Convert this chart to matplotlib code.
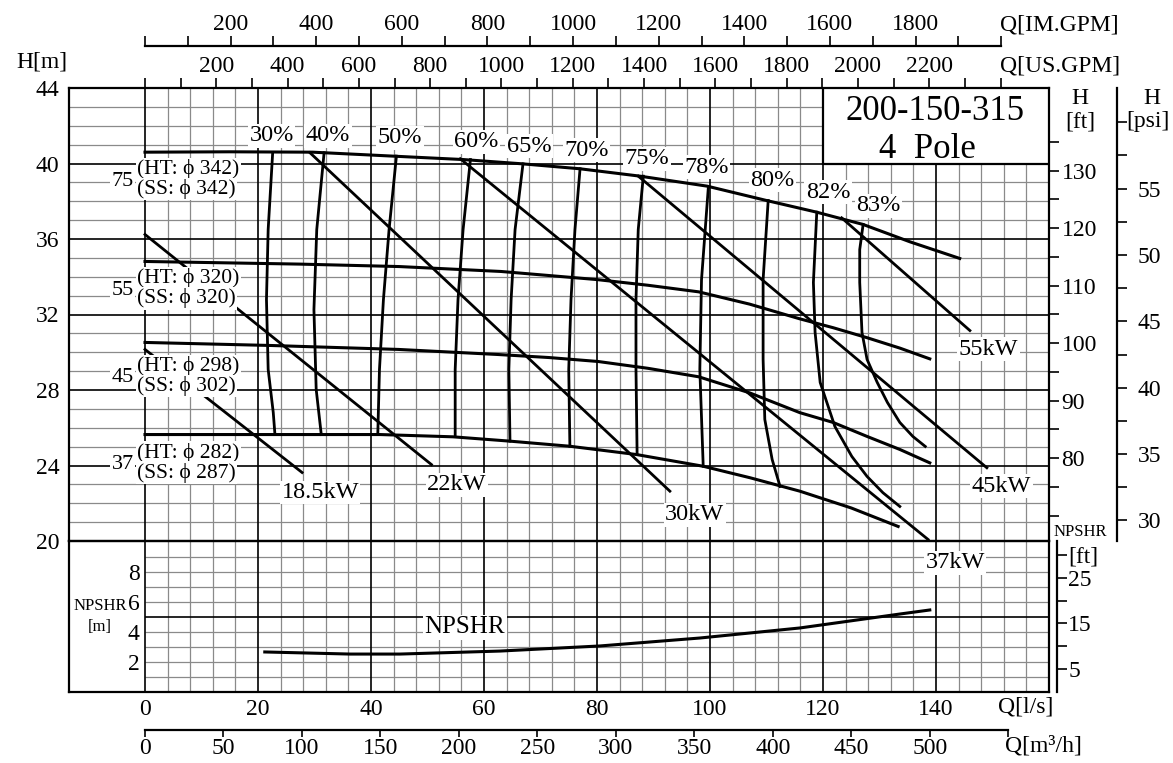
import numpy as np
import matplotlib
matplotlib.use("Agg")
import matplotlib.pyplot as plt
from matplotlib.patches import Rectangle

plt.rcParams['font.family'] = ['Liberation Serif', 'DejaVu Serif']

# unit conversions
LS_TO_USGPM = 15.850
LS_TO_IMGPM = 13.198
LS_TO_M3H = 3.6
M_TO_FT = 3.28084
M_PER_PSI = 0.70307

# H-Q curves, Q [l/s], H [m]
q_75 = [0, 15.0, 29.7, 44.6, 56.3, 66.9, 77.0, 87.6, 99.5, 110.0, 118.9, 127.1, 135.4, 144.2]
h_75 = [40.60, 40.62, 40.60, 40.38, 40.21, 39.98, 39.72, 39.33, 38.80, 38.04, 37.42, 36.77, 35.85, 34.97]

q_55 = [0, 27.4, 45.0, 63.0, 80.0, 89.0, 98.0, 107.0, 115.9, 121.8, 127.8, 133.6, 138.9]
h_55 = [34.81, 34.67, 34.54, 34.28, 33.85, 33.55, 33.20, 32.55, 31.77, 31.30, 30.77, 30.22, 29.65]

q_45 = [0, 22.1, 44.8, 62.5, 71.5, 80.2, 89.0, 98.0, 107.0, 115.9, 121.8, 127.8, 133.6, 138.9]
h_45 = [30.52, 30.36, 30.15, 29.88, 29.72, 29.51, 29.15, 28.70, 27.85, 26.80, 26.28, 25.54, 24.85, 24.14]

q_37 = [0, 27.4, 41.6, 54.5, 64.6, 75.2, 87.0, 98.8, 107.1, 115.9, 125.0, 133.3]
h_37 = [25.64, 25.64, 25.64, 25.52, 25.29, 25.02, 24.58, 23.96, 23.35, 22.64, 21.75, 20.77]

imp_kw = ['75', '55', '45', '37']
imp_ht = ['342', '320', '298', '282']
imp_ss = ['342', '320', '302', '287']
imp_label_h = [39.17, 33.38, 28.75, 24.15]

# efficiency iso-lines
eff_labels = ['30%', '40%', '50%', '60%', '65%', '70%', '75%', '78%', '80%', '82%', '83%']
eff_q = [
    [22.6, 21.8, 21.5, 21.8, 22.7, 23.0],
    [31.7, 30.4, 29.9, 30.3, 31.2],
    [44.5, 43.2, 42.2, 41.5, 41.2],
    [57.6, 56.3, 55.4, 54.9, 54.9],
    [66.9, 65.5, 64.8, 64.4, 64.6],
    [77.0, 76.1, 75.4, 75.0, 75.2],
    [88.2, 87.3, 86.9, 86.9, 87.1],
    [99.7, 98.5, 98.2, 98.8],
    [110.3, 109.4, 109.4, 109.7, 111.0, 112.4],
    [118.9, 118.3, 118.6, 119.5, 122.1, 125.1, 127.8, 130.6, 133.6],
    [127.1, 126.5, 126.5, 126.9, 127.8, 129.6, 131.4, 133.6, 135.9, 138.1],
]
eff_h = [
    [40.58, 36.50, 32.79, 29.09, 26.81, 25.64],
    [40.57, 36.50, 32.26, 28.03, 25.64],
    [40.39, 36.50, 32.79, 29.09, 25.64],
    [40.21, 36.50, 32.79, 29.09, 25.54],
    [39.98, 36.50, 32.79, 29.09, 25.29],
    [39.72, 36.50, 32.79, 29.09, 25.02],
    [39.33, 36.50, 32.79, 29.09, 24.58],
    [38.71, 33.85, 29.09, 23.96],
    [38.04, 33.85, 29.62, 26.44, 24.32, 22.89],
    [37.42, 33.70, 31.05, 28.40, 26.07, 24.48, 23.42, 22.56, 21.83],
    [36.77, 35.44, 33.70, 31.05, 29.62, 28.40, 27.34, 26.28, 25.54, 25.01],
]
eff_label_q = [22.4, 32.4, 45.1, 58.7, 68.0, 78.1, 88.8, 99.4, 111.1, 120.9, 129.8]
eff_label_h = [41.48, 41.48, 41.36, 41.15, 40.92, 40.70, 40.25, 39.81, 39.12, 38.48, 37.77]

# motor power limit lines
kw_labels = ['18.5kW', '22kW', '30kW', '37kW', '45kW', '55kW']
kw_q = [[0, 27.8], [0, 50.7], [29.2, 92.9], [55.8, 138.6], [87.3, 149.0], [123.3, 146.0]]
kw_h = [[30.15, 23.63], [36.24, 24.05], [40.57, 22.64], [40.25, 20.08], [39.33, 23.88], [37.12, 31.15]]
kw_label_q = [31.0, 55.2, 97.3, 143.4, 151.6, 149.3]
kw_label_h = [22.57, 22.99, 21.40, 18.84, 22.90, 30.15]

# NPSHR [m]
npsh_q = [21.2, 36.3, 45.1, 62.8, 80.5, 98.2, 115.9, 133.6, 138.9]
npsh_m = [2.67, 2.53, 2.53, 2.73, 3.07, 3.60, 4.27, 5.20, 5.47]

QMIN, QMAX = -13.45, 160
W, H = 1173, 763
x0, x1 = 69, 1049
y_top, y_mid, y_bot = 88, 541, 692

fig = plt.figure(figsize=(W / 100, H / 100), dpi=100)
ax_n = fig.add_axes([x0 / W, 1 - y_bot / H, (x1 - x0) / W, (y_bot - y_mid) / H])
ax_h = fig.add_axes([x0 / W, 1 - y_mid / H, (x1 - x0) / W, (y_mid - y_top) / H])
ax_h.set_zorder(2)
ax_h.patch.set_alpha(0)

for ax in (ax_h, ax_n):
    ax.set_xlim(QMIN, QMAX)
    for s in ax.spines.values():
        s.set_linewidth(1.6)
ax_h.set_ylim(20, 44)
ax_n.set_ylim(0, 10.07)

g_minor = dict(color='#8a8a8a', lw=0.9, zorder=1)
g_major = dict(color='black', lw=1.2, zorder=1.5)
for h in range(21, 44):
    ax_h.axhline(h, **(g_major if h % 4 == 0 else g_minor))
for q in range(0, 160, 4):
    st = g_major if q % 20 == 0 else g_minor
    ax_h.axvline(q, **st)
    ax_n.axvline(q, **st)
for n in range(1, 10):
    ax_n.hlines(n, 0, QMAX, **(g_major if n == 5 else g_minor))

FS = 17
ax_h.set_xticks([])
ax_h.set_yticks(range(20, 45, 4))
ax_h.tick_params(axis='y', length=0, pad=7, labelsize=FS)
ax_n.set_yticks([])
ax_n.set_xticks(range(0, 141, 20))
ax_n.tick_params(axis='x', length=0, pad=5, labelsize=FS)

# secondary scales
sec_us = ax_h.secondary_xaxis('top', functions=(lambda q: q * LS_TO_USGPM, lambda g: g / LS_TO_USGPM))
v = list(range(0, 2401, 100))
sec_us.set_xticks(v, labels=[str(t) if t % 200 == 0 and 0 < t < 2400 else '' for t in v])
sec_us.tick_params(direction='out', length=7, width=1.2, pad=1, labelsize=FS)
sec_us.spines['top'].set_visible(False)

sec_im = ax_h.secondary_xaxis(1 + (y_top - 46) / (y_mid - y_top),
                              functions=(lambda q: q * LS_TO_IMGPM, lambda g: g / LS_TO_IMGPM))
v = list(range(0, 2001, 100))
sec_im.set_xticks(v, labels=[str(t) if t % 200 == 0 and 0 < t < 2000 else '' for t in v])
sec_im.tick_params(direction='out', length=7, width=1.2, pad=1, labelsize=FS)
sec_im.spines['top'].set_bounds(0, 2000)
sec_im.spines['top'].set_linewidth(1.6)

sec_m3 = ax_n.secondary_xaxis(-(730 - y_bot) / (y_bot - y_mid),
                              functions=(lambda q: q * LS_TO_M3H, lambda m: m / LS_TO_M3H))
v = list(range(0, 551, 50))
sec_m3.set_xticks(v, labels=[str(t) if t <= 500 else '' for t in v])
sec_m3.tick_params(direction='out', length=5, width=1.2, pad=1, labelsize=FS)
sec_m3.spines['bottom'].set_bounds(0, 550)
sec_m3.spines['bottom'].set_linewidth(1.6)

sec_ft = ax_h.secondary_yaxis('right', functions=(lambda h: h * M_TO_FT, lambda f: f / M_TO_FT))
v = list(range(70, 136, 5))
sec_ft.set_yticks(v, labels=[str(t) if t % 10 == 0 and t >= 80 else '' for t in v])
sec_ft.tick_params(direction='out', length=7, width=1.2, pad=2, labelsize=FS)
sec_ft.spines['right'].set_visible(False)

sec_psi = ax_h.secondary_yaxis(1 + (1117 - x1) / (x1 - x0),
                               functions=(lambda h: h / M_PER_PSI, lambda p: p * M_PER_PSI))
v = list(np.arange(30, 60.1, 2.5))
sec_psi.set_yticks(v, labels=[str(int(t)) if t % 5 == 0 and t < 60 else '' for t in v])
sec_psi.tick_params(direction='out', length=7, width=1.2, pad=8, labelsize=FS)
sec_psi.spines['right'].set_linewidth(1.6)

sec_nft = ax_n.secondary_yaxis(1 + (1057 - x1) / (x1 - x0),
                               functions=(lambda n: n * M_TO_FT, lambda f: f / M_TO_FT))
sec_nft.set_yticks([5, 10, 15, 20, 25, 30], labels=['5', '', '15', '', '25', '[ft]'])
sec_nft.tick_params(direction='out', length=7, width=1.2, pad=1, labelsize=FS)
sec_nft.spines['right'].set_linewidth(1.6)

sec_nm = ax_n.secondary_yaxis((0 - QMIN) / (QMAX - QMIN))
sec_nm.set_yticks([2, 4, 6, 8])
sec_nm.tick_params(length=0, pad=4, labelsize=FS)
sec_nm.spines['left'].set_visible(False)

# axis captions
fig.text(42 / W, 1 - 62 / H, 'H[m]', ha='center', va='center', fontsize=FS)
fig.text(1000 / W, 1 - 25 / H, 'Q[IM.GPM]', ha='left', va='center', fontsize=FS)
fig.text(1000 / W, 1 - 66 / H, 'Q[US.GPM]', ha='left', va='center', fontsize=FS)
fig.text(998 / W, 1 - 707 / H, 'Q[l/s]', ha='left', va='center', fontsize=FS)
fig.text(1005 / W, 1 - 746 / H, 'Q[m³/h]', ha='left', va='center', fontsize=FS)
fig.text(1080 / W, 1 - 98 / H, 'H', ha='center', va='center', fontsize=FS)
fig.text(1080 / W, 1 - 122 / H, '[ft]', ha='center', va='center', fontsize=FS)
fig.text(1152 / W, 1 - 98 / H, 'H', ha='center', va='center', fontsize=FS)
fig.text(1148 / W, 1 - 122 / H, '[psi]', ha='center', va='center', fontsize=FS)
fig.text(1080 / W, 1 - 532 / H, 'NPSHR', ha='center', va='center', fontsize=12)
fig.text(100 / W, 1 - 606 / H, 'NPSHR', ha='center', va='center', fontsize=12)
fig.text(100 / W, 1 - 627 / H, '[m]', ha='center', va='center', fontsize=12)

box = dict(facecolor='white', edgecolor='none', pad=1)

# curves
for q, h in ((q_75, h_75), (q_55, h_55), (q_45, h_45), (q_37, h_37)):
    ax_h.plot(q, h, color='black', lw=2.2, zorder=3)
for q, h in zip(eff_q, eff_h):
    ax_h.plot(q, h, color='black', lw=2.0, zorder=3)
for q, h in zip(kw_q, kw_h):
    ax_h.plot(q, h, color='black', lw=2.0, zorder=3)
ax_n.plot(npsh_q, npsh_m, color='black', lw=2.2, zorder=3)

for lab, q, h in zip(eff_labels, eff_label_q, eff_label_h):
    ax_h.text(q, h, lab, ha='center', va='center', fontsize=17.5, zorder=6, bbox=box)
for lab, q, h in zip(kw_labels, kw_label_q, kw_label_h):
    ax_h.text(q, h, lab, ha='center', va='center', fontsize=17.5, zorder=6, bbox=box)
for kw, ht, ss, h in zip(imp_kw, imp_ht, imp_ss, imp_label_h):
    ax_h.text(-2.0, h - 0.1, kw, ha='right', va='center', fontsize=16, zorder=6, bbox=box)
    ax_h.text(-1.4, h + 0.53, '(HT: ϕ ' + ht + ')', ha='left', va='center', fontsize=15.5, zorder=6, bbox=box)
    ax_h.text(-1.4, h - 0.53, '(SS: ϕ ' + ss + ')', ha='left', va='center', fontsize=15.5, zorder=6, bbox=box)
ax_n.text(56.6, 4.33, 'NPSHR', ha='center', va='center', fontsize=18, zorder=6, bbox=box)

# model box
ax_h.add_patch(Rectangle((120, 40), 40, 4, facecolor='white', edgecolor='black', lw=1.6, zorder=4))
ax_h.text(139.8, 42.75, '200-150-315', ha='center', va='center', fontsize=25, zorder=6)
ax_h.text(138.4, 40.74, '4  Pole', ha='center', va='center', fontsize=25, zorder=6)

fig.savefig('out.png', dpi=100)
